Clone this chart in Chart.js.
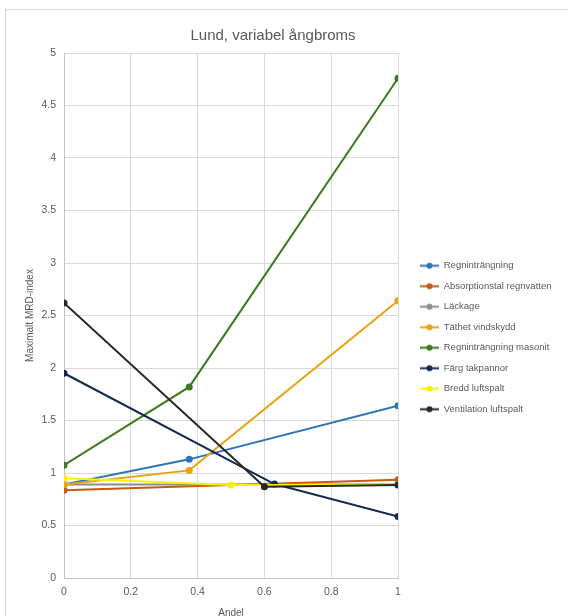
<!DOCTYPE html>
<html>
<head>
<meta charset="utf-8">
<script src="https://cdn.jsdelivr.net/npm/chart.js@4/dist/chart.umd.min.js"></script>
<style>
  html, body { margin: 0; padding: 0; background: #fff; overflow: hidden; }
  #frame { position: absolute; left: 5px; top: 9px; width: 640px; height: 700px; border: 1px solid #d9d9d9; }
  #wrap { position: absolute; left: 6px; top: 10px; width: 562px; height: 620px; }
</style>
</head>
<body>
<div id="frame"></div>
<div id="wrap"><canvas id="chart"></canvas></div>
<script>
const chartTitle = "Lund, variabel ångbroms";
const xTitle = "Andel";
const yTitle = "Maximalt MRD-index";

const seriesNames = [
  "Regninträngning",
  "Absorptionstal regnvatten",
  "Läckage",
  "Täthet vindskydd",
  "Regninträngning masonit",
  "Färg takpannor",
  "Bredd luftspalt",
  "Ventilation luftspalt"
];
const seriesColors = ["#2e75b6", "#c55a11", "#8c8c8c", "#eaa20f", "#3d7a1f", "#142850", "#f7f300", "#262626"];

const regnX = [0, 0.375, 1];
const regnY = [0.89, 1.13, 1.64];
const absorptionX = [0, 1];
const absorptionY = [0.835, 0.935];
const lackageX = [0, 1];
const lackageY = [0.89, 0.89];
const tathetX = [0, 0.375, 1];
const tathetY = [0.89, 1.025, 2.64];
const masonitX = [0, 0.375, 1];
const masonitY = [1.075, 1.82, 4.76];
const fargX = [0, 0.63, 1];
const fargY = [1.95, 0.895, 0.585];
const breddX = [0, 0.5, 1];
const breddY = [0.95, 0.885, 0.885];
const ventX = [0, 0.6, 1];
const ventY = [2.62, 0.87, 0.885];

const seriesX = [regnX, absorptionX, lackageX, tathetX, masonitX, fargX, breddX, ventX];
const seriesY = [regnY, absorptionY, lackageY, tathetY, masonitY, fargY, breddY, ventY];

const fontFamily = "'Liberation Sans', Arial, sans-serif";
const textColor = "#595959";

function legendMarker(color) {
  const c = document.createElement("canvas");
  c.width = 30;
  c.height = 9;
  const g = c.getContext("2d");
  g.strokeStyle = color;
  g.lineWidth = 2;
  g.beginPath();
  g.moveTo(11, 4.5);
  g.lineTo(30, 4.5);
  g.stroke();
  g.fillStyle = color;
  g.beginPath();
  g.arc(20.5, 4.5, 3, 0, Math.PI * 2);
  g.fill();
  return c;
}

// plain numbers, no trailing zeros (5, 4.5, 1 ...)
const tickLabel = v => String(Number(v.toFixed(2)));

const datasets = seriesNames.map((name, i) => ({
  label: name,
  data: seriesX[i].map((x, j) => ({ x: x, y: seriesY[i][j] })),
  showLine: true,
  borderColor: seriesColors[i],
  backgroundColor: seriesColors[i],
  pointBackgroundColor: seriesColors[i],
  pointBorderColor: seriesColors[i],
  borderWidth: 2,
  pointRadius: 3.5,
  pointBorderWidth: 0,
  order: seriesNames.length - i
}));

const titlePlugin = {
  id: "fixedTitle",
  afterDraw(chart) {
    const ctx = chart.ctx;
    ctx.save();
    ctx.font = "15px " + fontFamily;
    ctx.fillStyle = textColor;
    ctx.textAlign = "center";
    ctx.textBaseline = "middle";
    ctx.fillText(chartTitle, 267, 26);
    ctx.restore();
  }
};

new Chart(document.getElementById("chart"), {
  type: "scatter",
  data: { datasets: datasets },
  plugins: [titlePlugin],
  options: {
    responsive: true,
    maintainAspectRatio: false,
    animation: false,
    layout: { padding: { top: 43, right: 10, left: 0, bottom: 0 } },
    plugins: {
      tooltip: { enabled: false },
      legend: {
        position: "right",
        align: "start",
        maxWidth: 160,
        title: { display: true, text: " ", padding: { top: 0, bottom: 185 }, font: { size: 10 } },
        labels: {
          usePointStyle: true,
          pointStyleWidth: 30,
          boxHeight: 9,
          padding: 11,
          color: textColor,
          font: { size: 9.5, family: fontFamily },
          generateLabels(chart) {
            return chart.data.datasets.map((ds, i) => ({
              text: ds.label,
              fillStyle: ds.borderColor,
              strokeStyle: ds.borderColor,
              lineWidth: 0,
              pointStyle: legendMarker(ds.borderColor),
              datasetIndex: i,
              hidden: !chart.isDatasetVisible(i),
              fontColor: textColor
            }));
          }
        }
      }
    },
    scales: {
      x: {
        type: "linear",
        min: 0,
        max: 1,
        ticks: { stepSize: 0.2, padding: 8, color: textColor, font: { size: 10.5, family: fontFamily }, callback: tickLabel },
        grid: { color: "#d9d9d9", drawTicks: false },
        border: { color: "#c4c4c4" },
        title: { display: true, text: xTitle, color: textColor, font: { size: 10, family: fontFamily }, padding: { top: 0, bottom: 11 } },
        afterFit(scale) { scale.height = 52; }
      },
      y: {
        min: 0,
        max: 5,
        ticks: { stepSize: 0.5, padding: 8, color: textColor, font: { size: 10.5, family: fontFamily }, callback: tickLabel },
        grid: { color: "#d9d9d9", drawTicks: false },
        border: { color: "#c4c4c4" },
        title: { display: true, text: yTitle, color: textColor, font: { size: 10, family: fontFamily }, padding: { top: 18, bottom: 0 } },
        afterFit(scale) { scale.width = 58; }
      }
    }
  }
});
</script>
</body>
</html>
